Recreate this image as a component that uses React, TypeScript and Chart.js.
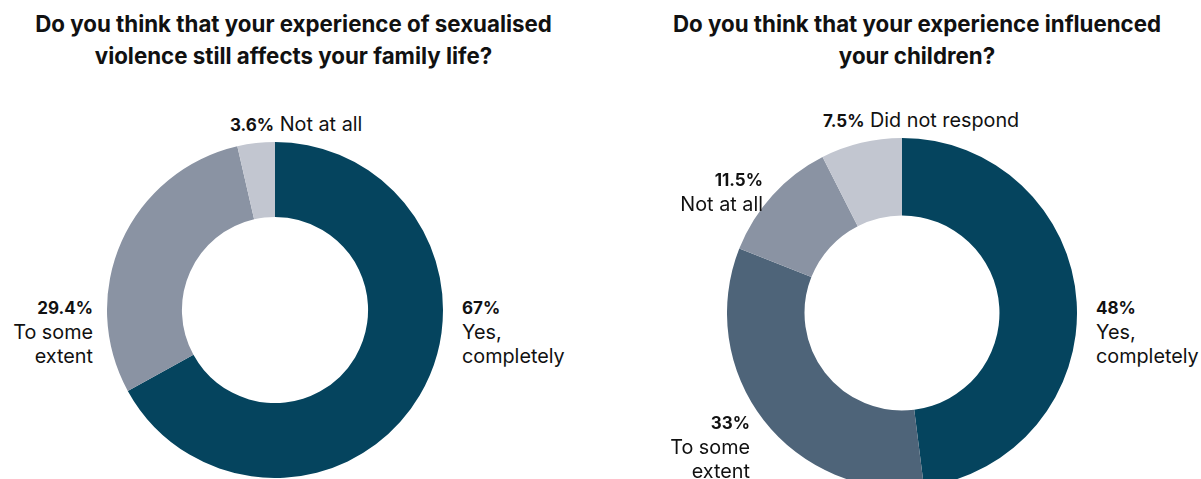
import React, { useEffect, useRef } from "react";
import { Chart, registerables } from "chart.js";
Chart.register(...registerables);

// ---- Data ----
const leftTitle = ["Do you think that your experience of sexualised", "violence still affects your family life?"];
const leftCategories = ["Yes, completely", "To some extent", "Not at all"];
const leftValues = [67, 29.4, 3.6];
const leftColors = ["#05445E", "#8A93A3", "#C2C6D0"];

const rightTitle = ["Do you think that your experience influenced", "your children?"];
const rightCategories = ["Yes, completely", "To some extent", "Not at all", "Did not respond"];
const rightValues = [48, 33, 11.5, 7.5];
const rightColors = ["#05445E", "#4E6479", "#8A93A3", "#C2C6D0"];

const FONT = "Inter, 'Noto Sans', sans-serif";

function Doughnut({ values, labels, colors, cutout, style }: any) {
  const ref = useRef<HTMLCanvasElement>(null);
  useEffect(() => {
    if (!ref.current) return;
    const chart = new Chart(ref.current, {
      type: "doughnut",
      data: {
        labels,
        datasets: [{ data: values, backgroundColor: colors, borderWidth: 0 }],
      },
      options: {
        animation: false,
        responsive: false,
        cutout,
        layout: { padding: 0 },
        plugins: { legend: { display: false }, tooltip: { enabled: false } },
      },
    });
    return () => chart.destroy();
  }, []);
  return <canvas ref={ref} width={style.width} height={style.height} style={{ position: "absolute", ...style }} />;
}

function Label({ pct, lines, style, align, inline }: any) {
  return (
    <div style={{ position: "absolute", textAlign: align, fontFamily: FONT, color: "#111", whiteSpace: "nowrap", ...style }}>
      {inline ? (
        <div style={{ fontSize: 19.8, lineHeight: "24px" }}>
          <span style={{ fontWeight: 700, fontSize: 17 }}>{pct}</span> {lines.join(" ")}
        </div>
      ) : (
        <>
          <div style={{ fontWeight: 700, fontSize: 17, lineHeight: "24px" }}>{pct}</div>
          {lines.map((l: string, i: number) => (
            <div key={i} style={{ fontSize: 19.8, lineHeight: "24px" }}>{l}</div>
          ))}
        </>
      )}
    </div>
  );
}

const fmt = (v: number) => `${v}%`;

export default function App() {
  const titleStyle: any = {
    position: "absolute",
    top: 8,
    fontFamily: FONT,
    fontWeight: 700,
    fontSize: 22.3,
    lineHeight: "32px",
    textAlign: "center",
    color: "#111",
    whiteSpace: "nowrap",
  };
  return (
    <div style={{ position: "absolute", left: 0, top: 0, width: 1201, height: 479, overflow: "hidden", background: "#fff" }}>
      <div style={{ ...titleStyle, left: 0, width: 587 }}>
        {leftTitle.map((t, i) => <div key={i}>{t}</div>)}
      </div>
      <div style={{ ...titleStyle, left: 617, width: 600 }}>
        {rightTitle.map((t, i) => <div key={i}>{t}</div>)}
      </div>

      <Doughnut values={leftValues} labels={leftCategories} colors={leftColors} cutout="55.4%"
        style={{ left: 107, top: 142, width: 336, height: 336 }} />
      <Doughnut values={rightValues} labels={rightCategories} colors={rightColors} cutout="55.7%"
        style={{ left: 727, top: 138, width: 350, height: 350 }} />

      {/* Left chart labels */}
      <Label pct={fmt(leftValues[0])} lines={["Yes,", "completely"]} align="left" style={{ left: 462, top: 296 }} />
      <Label pct={fmt(leftValues[1])} lines={["To some", "extent"]} align="right" style={{ right: 1201 - 93, top: 296 }} />
      <Label pct={fmt(leftValues[2])} lines={["Not at all"]} align="left" inline style={{ left: 230, top: 112 }} />

      {/* Right chart labels */}
      <Label pct={fmt(rightValues[0])} lines={["Yes,", "completely"]} align="left" style={{ left: 1096, top: 296 }} />
      <Label pct={fmt(rightValues[1])} lines={["To some", "extent"]} align="right" style={{ right: 1201 - 750, top: 411 }} />
      <Label pct={fmt(rightValues[2])} lines={["Not at all"]} align="right" style={{ right: 1201 - 763, top: 168 }} />
      <Label pct={fmt(rightValues[3])} lines={["Did not respond"]} align="left" inline style={{ left: 823, top: 108 }} />
    </div>
  );
}
